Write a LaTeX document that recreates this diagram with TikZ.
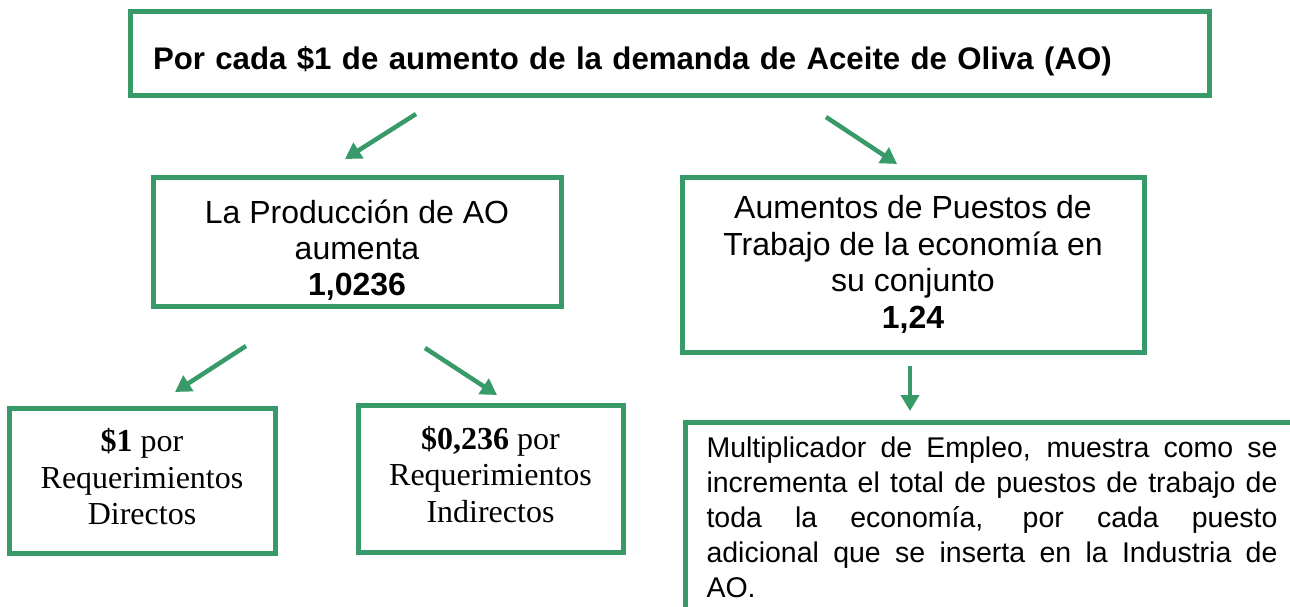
\documentclass[tikz,border=0pt]{standalone}
\usepackage{fontspec}
\setmainfont{Liberation Sans}
\newfontfamily\tnr{Liberation Serif}
\usetikzlibrary{arrows.meta}
\definecolor{boxgreen}{RGB}{56,154,104}
\begin{document}
\begin{tikzpicture}[x=1pt,y=-1pt,
  box/.style={draw=boxgreen, line width=5pt, align=center, inner sep=0pt},
  conn/.style={draw=boxgreen, line width=4.5pt, -{Triangle[length=16pt,width=18pt]}},
  sansbig/.style={font=\fontsize{32}{36.5}\selectfont},
  serifbig/.style={font=\tnr\fontsize{32}{36.5}\selectfont}]
\useasboundingbox (0,0) rectangle (1290,607);
\clip (0,0) rectangle (1290,607);
\fill[white] (0,0) rectangle (1290,607);

\node[box, minimum width=1079pt, minimum height=84pt, text width=1033pt, align=left,
  text height=31pt, text depth=0pt, font=\bfseries\fontsize{31.2}{36}\selectfont]
  (top) at (669.5,54) {Por cada \$1 de aumento de la demanda de Aceite de Oliva (AO)};

\node[box, font=\fontsize{32}{36}\selectfont, minimum width=408pt, minimum height=129pt] (prod) at (357,241.5)
  {\rule{0pt}{40pt}La Producci\smash{ó}n de AO\\aumenta\\\textbf{1,0236}};

\node[box, sansbig, minimum width=462pt, minimum height=175pt] (empl) at (913,264.5)
  {Aumentos de Puestos de\\Trabajo de la economía en\\su conjunto\\\textbf{1,24}};

\node[box, serifbig, minimum width=266pt, minimum height=145pt] (dir) at (142,480.5)
  {\textbf{\$1} por\\Requerimientos\\Directos\rule[-8pt]{0pt}{0pt}};

\node[box, serifbig, minimum width=265pt, minimum height=147pt] (ind) at (490.5,478.5)
  {\textbf{\$0,236} por\\Requerimientos\\Indirectos\rule[-9pt]{0pt}{0pt}};

\node[box, anchor=north west, text width=571pt, align=justify, inner xsep=21pt, inner ysep=14pt,
  font=\fontsize{28.5}{35}\selectfont] (mult) at (683,420)
  {\tolerance=10000\hyphenpenalty=10000\emergencystretch=0pt
  Multiplicador de Empleo, muestra como se\linebreak
  incrementa el total de puestos de trabajo de\linebreak
  toda la economía, por cada puesto\linebreak
  adicional que se inserta en la Industria de\linebreak
  AO.\rule[-40pt]{0pt}{0pt}};

\coordinate (a1s) at (416,114);
\coordinate (a1e) at (345,159);
\coordinate (a2s) at (826,117);
\coordinate (a2e) at (897,164);
\coordinate (a3s) at (246,346);
\coordinate (a3e) at (175,392);
\coordinate (a4s) at (425,348);
\coordinate (a4e) at (497,395);
\coordinate (a5s) at (910,366);
\coordinate (a5e) at (910,411);

\draw[conn] (a1s) -- (a1e);
\draw[conn] (a2s) -- (a2e);
\draw[conn] (a3s) -- (a3e);
\draw[conn] (a4s) -- (a4e);
\draw[conn] (a5s) -- (a5e);
\end{tikzpicture}
\end{document}
